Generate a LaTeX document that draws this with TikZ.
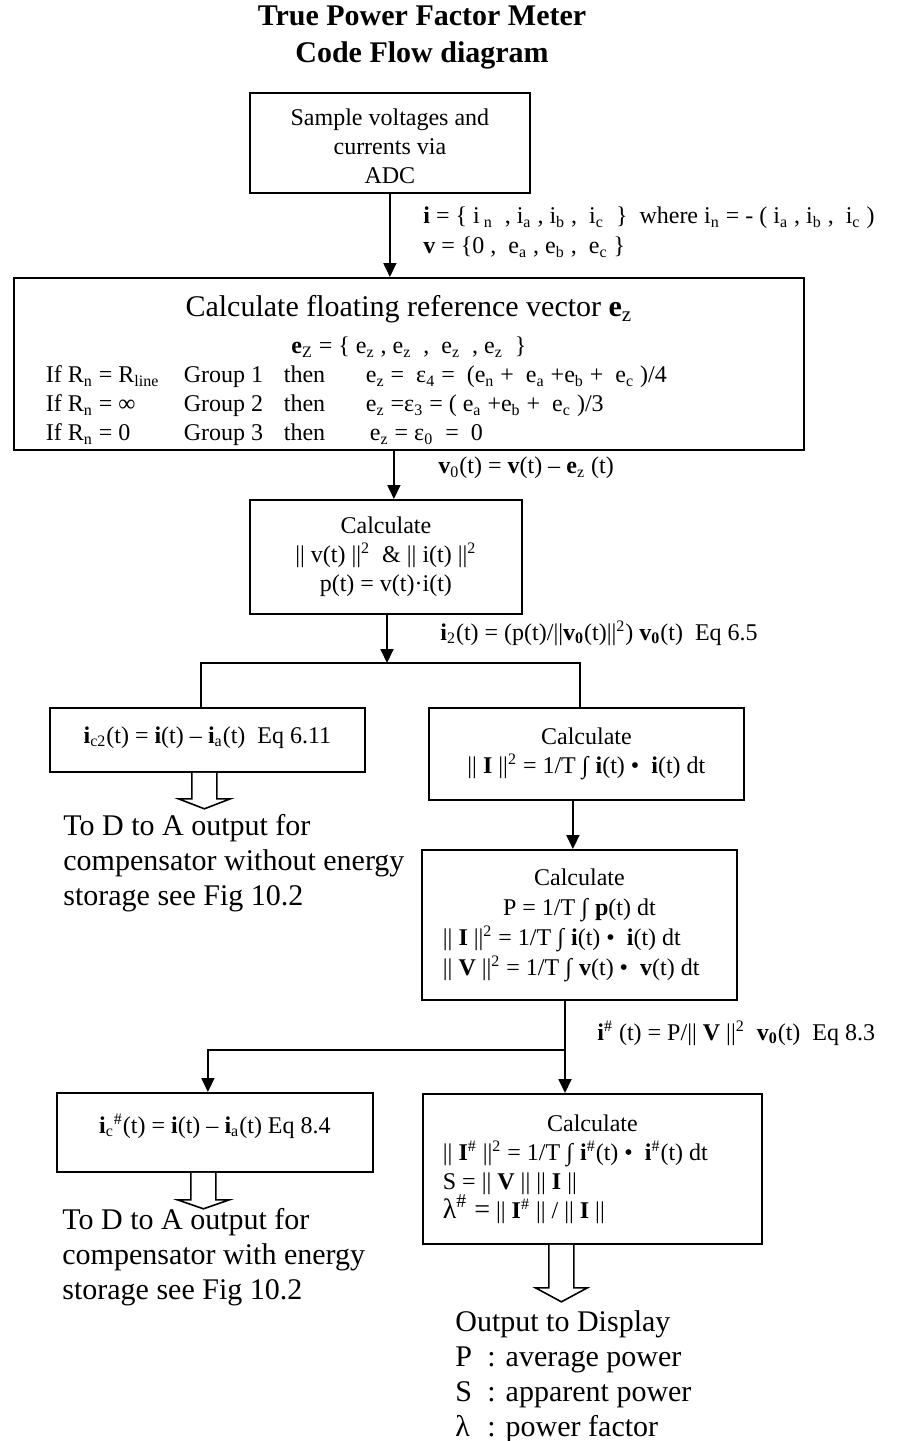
\documentclass[tikz,border=0pt]{standalone}
\usepackage{fontspec}
\setmainfont{Liberation Serif}
\usetikzlibrary{arrows.meta,positioning,calc}

\newcommand{\sbs}[1]{\textsubscript{#1}}
\newcommand{\sps}[1]{\textsuperscript{#1}}
\newcommand{\vb}[1]{\textbf{#1}}
% hollow output arrow: start point, shaft length, head length
\newcommand{\fatarrow}[3]{%
  \draw[fat] (#1) ++(-6.25pt,0) -- ++(0,-#2) -- ++(-6.75pt,0)
    -- ++(13pt,-#3) -- ++(13pt,#3) -- ++(-6.75pt,0) -- ++(0,#2);}

\begin{document}
\begin{tikzpicture}[x=0.5pt, y=-0.5pt,
    box/.style={draw, line width=0.9pt, inner sep=0pt, align=center,
                font=\fontsize{12}{14.5}\selectfont},
    arr/.style={-{Triangle[length=7pt, width=6.5pt]}, line width=0.9pt},
    wire/.style={line width=0.9pt},
    fat/.style={line width=0.8pt, fill=white},
    lbl/.style={anchor=west, inner sep=0pt, align=left,
                font=\fontsize{12}{15}\selectfont},
    note/.style={anchor=north west, inner sep=0pt, align=left,
                 font=\fontsize{15}{17.5}\selectfont},
  ]
  \useasboundingbox (0,0) rectangle (898,1441);

  % ---------- title ----------
  \node[align=center, inner sep=0pt, font=\fontsize{15}{18.5}\selectfont\bfseries]
    (title) at (422,37) {True Power Factor Meter\\Code Flow diagram};

  % ---------- sampling ----------
  \node[box, anchor=north west, minimum width=140pt, minimum height=50pt]
    (adc) at (249,92) {\rule{0pt}{11.5pt}Sample voltages and\\currents via\\ADC};
  \node[lbl] (ilbl) at (423,232)
    {\vb{i} = \{ i\sbs{ n}\ \ , i\sbs{a} , i\sbs{b} ,\ \ i\sbs{c}\ \ \}\ \ where
     i\sbs{n} = - ( i\sbs{a} , i\sbs{b} ,\ \ i\sbs{c} )\\
     \vb{v} = \{0 ,\ \ e\sbs{a} , e\sbs{b} ,\ \ e\sbs{c} \}};

  % ---------- floating reference ----------
  \node[box, anchor=north west, minimum width=395pt, minimum height=86pt,
        text width=363pt, align=flush left] (zref) at (13,277)
    {\makebox[\linewidth]{\fontsize{15}{18.5}\selectfont\rule{0pt}{17.5pt}%
       Calculate floating reference vector \vb{e}\sbs{z}}\\[4pt]
     \makebox[\linewidth]{\vb{e}\sbs{Z} = \{ e\sbs{z} , e\sbs{z}\ \ ,\ \ e\sbs{z}\ \ , e\sbs{z}\ \ \}}\\
     \makebox[69pt][l]{If R\sbs{n} = R\sbs{line}}\makebox[50pt][l]{Group 1}%
       \makebox[41pt][l]{then}e\sbs{z} =\ \ ε\sbs{4} =\ \ (e\sbs{n} +\ \ e\sbs{a} +e\sbs{b} +\ \ e\sbs{c} )/4\\
     \makebox[69pt][l]{If R\sbs{n} = ∞}\makebox[50pt][l]{Group 2}%
       \makebox[41pt][l]{then}e\sbs{z} =ε\sbs{3} = ( e\sbs{a} +e\sbs{b} +\ \ e\sbs{c} )/3\\
     \makebox[69pt][l]{If R\sbs{n} = 0}\makebox[50pt][l]{Group 3}%
       \makebox[43pt][l]{then}e\sbs{z} = ε\sbs{0}\ \ =\ \ 0};
  \draw[arr] (adc.south) -- (adc.south |- zref.north);

  % ---------- norms ----------
  \node[box, anchor=north west, minimum width=136pt, minimum height=57pt]
    (calc1) at (249,499)
    {Calculate\\|| v(t) ||\sps{2}\ \ \& || i(t) ||\sps{2}\\p(t) = v(t)·i(t)};
  \draw[arr] ([xshift=4pt]calc1.north |- zref.south) -- ([xshift=4pt]calc1.north);
  \node[lbl] (v0lbl) at (438,468)
    {\vb{v}\sbs{0}(t) = \vb{v}(t) – \vb{e}\sbs{z} (t)};

  % ---------- first split ----------
  \coordinate (j1) at (387,663);
  \node[box, anchor=north west, minimum width=157.5pt, minimum height=32pt]
    (comp1) at (49,707)
    {\vb{i}\sbs{c2}(t) = \vb{i}(t) – \vb{i}\sbs{a}(t)\ \ Eq 6.11\rule[-5pt]{0pt}{5pt}};
  \node[box, anchor=north west, minimum width=157.5pt, minimum height=46pt]
    (calc2) at (428,707)
    {Calculate\\|| \vb{I} ||\sps{2} = 1/T ∫ \vb{i}(t) •\ \ \vb{i}(t) dt};
  \draw[arr] (j1 |- calc1.south) -- (j1);
  \draw[wire] ([xshift=-3.25pt]comp1.north) |- (j1) -| ([xshift=-3.25pt]calc2.north);
  \node[lbl] (i2lbl) at (440,633)
    {\vb{i}\sbs{2}(t) = (p(t)/||\vb{v\sbs{0}}(t)||\sps{2}) \vb{v\sbs{0}}(t)\ \ Eq 6.5};

  \fatarrow{[xshift=-1.5pt]comp1.south}{13pt}{5pt}
  \node[note] (dac1) at (63,814)
    {To D to A output for\\compensator without energy\\storage see Fig 10.2};

  % ---------- averages ----------
  \node[box, anchor=north west, minimum width=157.5pt, minimum height=75pt,
        text width=136.5pt, align=flush left, font=\fontsize{12}{15}\selectfont]
    (calc3) at (421,849)
    {\makebox[\linewidth]{Calculate}\\
     \makebox[\linewidth]{P = 1/T ∫ \vb{p}(t) dt}\\
     || \vb{I} ||\sps{2} = 1/T ∫ \vb{i}(t) •\ \ \vb{i}(t) dt\\
     || \vb{V} ||\sps{2} = 1/T ∫ \vb{v}(t) •\ \ \vb{v}(t) dt};
  \draw[arr] ([xshift=-6.75pt]calc2.south) -- ([xshift=-6.75pt]calc2.south |- calc3.north);

  % ---------- second split ----------
  \coordinate (j2) at (565,1050);
  \node[box, anchor=north west, minimum width=158pt, minimum height=39.5pt]
    (comp2) at (56,1092)
    {\vb{i}\sbs{c}\sps{\#}(t) = \vb{i}(t) – \vb{i}\sbs{a}(t) Eq 8.4\rule[-9pt]{0pt}{9pt}};
  \node[box, anchor=north west, minimum width=169.5pt, minimum height=75pt,
        text width=149.5pt, align=flush left] (calc4) at (422,1093)
    {\makebox[\linewidth]{Calculate}\\
     || \vb{I}\sps{\#} ||\sps{2} = 1/T ∫ \vb{i}\sps{\#}(t) •\ \ \vb{i}\sps{\#}(t) dt\\
     S = || \vb{V} || || \vb{I} ||\\
     {\fontsize{14}{14.5}\selectfont λ\sps{\#} =} || \vb{I}\sps{\#} || / || \vb{I} ||};
  \draw[wire] (j2 |- calc3.south) -- (j2);
  \draw[arr] (j2) -- (j2 |- calc4.north);
  \draw[arr] (j2) -| ([xshift=-3.5pt]comp2.north);
  \node[lbl] (ihlbl) at (597,1033)
    {\vb{i}\sps{\#} (t) = P/|| \vb{V} ||\sps{2}\ \ \vb{v\sbs{0}}(t)\ \ Eq 8.3};

  \fatarrow{[xshift=-5.75pt]comp2.south}{13.5pt}{4.5pt}
  \node[note] (dac2) at (62,1208)
    {To D to A output for\\compensator with energy\\storage see Fig 10.2};

  % ---------- display ----------
  \fatarrow{[xshift=-15.5pt]calc4.south}{21.5pt}{7pt}
  \node[note] (disp) at (455,1310)
    {Output to Display\\
     \makebox[16pt][l]{P}: average power\\
     \makebox[16pt][l]{S}: apparent power\\
     \makebox[16pt][l]{λ}: power factor};

\end{tikzpicture}
\end{document}
